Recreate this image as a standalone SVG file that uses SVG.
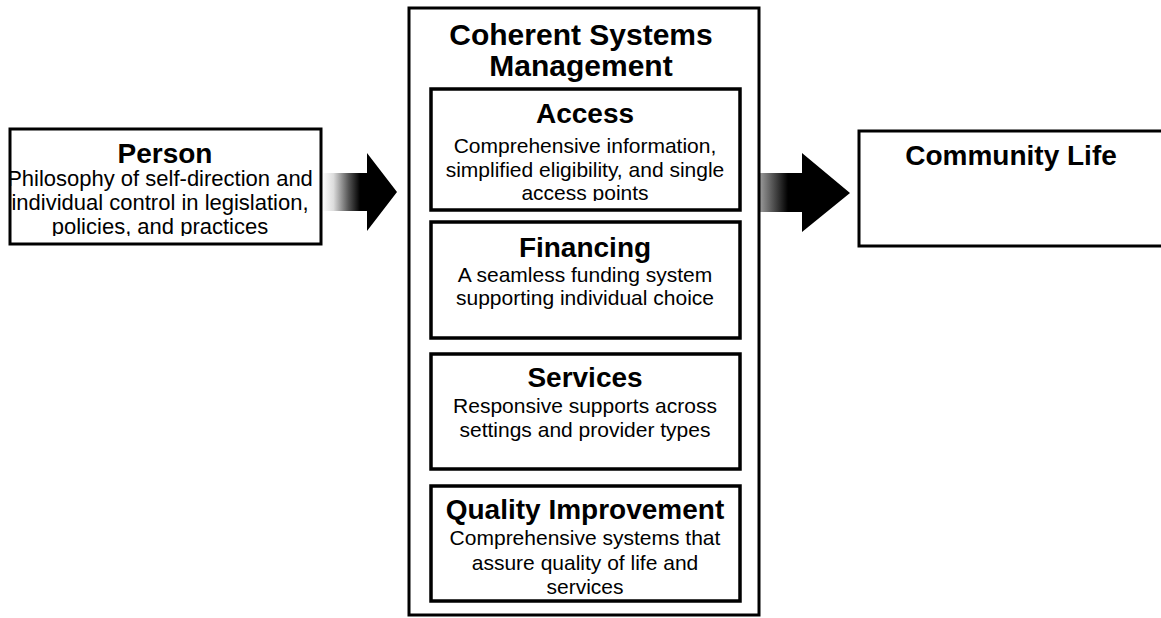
<svg xmlns="http://www.w3.org/2000/svg" width="1161" height="618" viewBox="0 0 1161 618">
<style>
  .box { fill: #fff; stroke: #000; stroke-width: 3; }
  .inner { fill: #fff; stroke: #000; stroke-width: 3.5; }
  .title { font-family: "Liberation Sans", Arial, sans-serif; font-weight: bold; font-size: 30px; text-anchor: middle; fill: #000; }
  .head { font-family: "Liberation Sans", Arial, sans-serif; font-weight: bold; font-size: 28px; text-anchor: middle; fill: #000; }
  .desc { font-family: "Liberation Sans", Arial, sans-serif; font-size: 21px; text-anchor: middle; fill: #000; }
  .pdesc { font-family: "Liberation Sans", Arial, sans-serif; font-size: 22px; text-anchor: middle; fill: #000; }
</style>
<defs>
  <linearGradient id="g1" gradientUnits="userSpaceOnUse" x1="322" y1="0" x2="360" y2="0">
    <stop offset="0" stop-color="#fff"/>
    <stop offset="0.3" stop-color="#ddd"/>
    <stop offset="0.7" stop-color="#555"/>
    <stop offset="1" stop-color="#000"/>
  </linearGradient>
  <linearGradient id="g2" gradientUnits="userSpaceOnUse" x1="760" y1="0" x2="788" y2="0">
    <stop offset="0" stop-color="#999"/>
    <stop offset="1" stop-color="#000"/>
  </linearGradient>
  <clipPath id="cPerson"><rect x="10" y="129" width="311" height="107"/></clipPath>
  <clipPath id="cAccess"><rect x="431" y="89" width="309" height="112"/></clipPath>
  <clipPath id="cQuality"><rect x="431" y="486" width="309" height="109"/></clipPath>
</defs>
<rect width="1161" height="618" fill="#fff"/>

<g id="connectors">
  <polygon points="322,173 367,173 367,153 397,192 367,231 367,211 322,211" fill="url(#g1)"/>
  <polygon points="760,173 802,173 802,153 850,193 802,232 802,212 760,212" fill="url(#g2)"/>
</g>

<g id="person">
  <rect class="box" x="10" y="129" width="311" height="115"/>
  <text class="head" x="165" y="163">Person</text>
  <g clip-path="url(#cPerson)">
    <text class="pdesc" x="160" y="186">Philosophy of self-direction and</text>
    <text class="pdesc" x="160" y="210">individual control in legislation,</text>
    <text class="pdesc" x="160" y="234">policies, and practices</text>
  </g>
</g>

<g id="csm">
  <rect class="box" x="409" y="8" width="350" height="607"/>
  <text class="title" x="581" y="45">Coherent Systems</text>
  <text class="title" x="581" y="76">Management</text>
</g>

<g id="access">
  <rect class="inner" x="431" y="89" width="309" height="121"/>
  <text class="head" x="585" y="123">Access</text>
  <g clip-path="url(#cAccess)">
    <text class="desc" x="585" y="153">Comprehensive information,</text>
    <text class="desc" x="585" y="177">simplified eligibility, and single</text>
    <text class="desc" x="585" y="200">access points</text>
  </g>
</g>

<g id="financing">
  <rect class="inner" x="431" y="222" width="309" height="116"/>
  <text class="head" x="585" y="257">Financing</text>
  <text class="desc" x="585" y="282">A seamless funding system</text>
  <text class="desc" x="585" y="305">supporting individual choice</text>
</g>

<g id="services">
  <rect class="inner" x="431" y="354" width="309" height="115"/>
  <text class="head" x="585" y="387">Services</text>
  <text class="desc" x="585" y="413">Responsive supports across</text>
  <text class="desc" x="585" y="437">settings and provider types</text>
</g>

<g id="quality">
  <rect class="inner" x="431" y="486" width="309" height="115"/>
  <text class="head" x="585" y="519">Quality Improvement</text>
  <g clip-path="url(#cQuality)">
    <text class="desc" x="585" y="545">Comprehensive systems that</text>
    <text class="desc" x="585" y="570">assure quality of life and</text>
    <text class="desc" x="585" y="594">services</text>
  </g>
</g>

<g id="community">
  <rect class="box" x="859" y="131" width="320" height="115"/>
  <text class="head" x="1011" y="165">Community Life</text>
</g>
</svg>
